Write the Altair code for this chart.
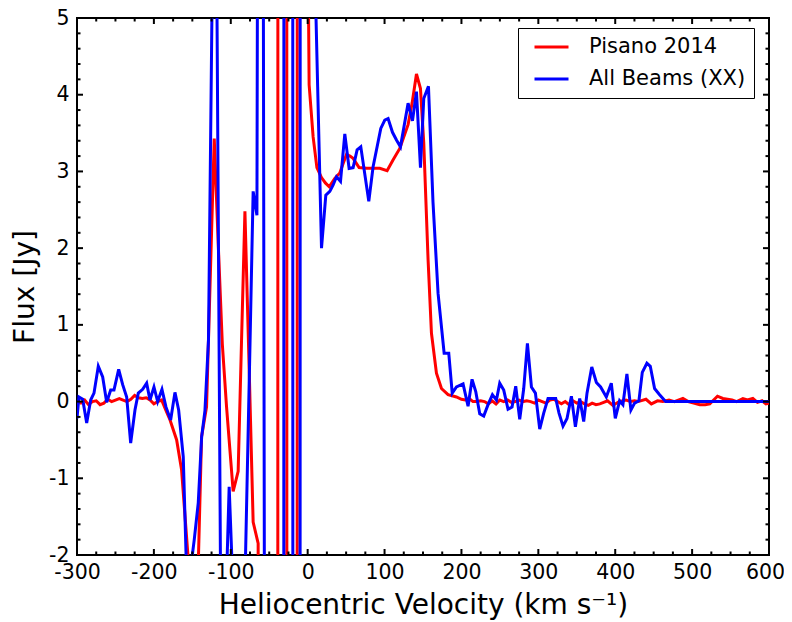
import altair as alt
import pandas as pd

# ---------------- data ----------------
red_v = [-300, -295, -290, -285, -280, -275, -270, -265, -260, -255, -250, -245, -240, -235,
         -230, -225, -220, -215, -210, -205, -200, -195, -190, -185, -179, -170.4, -164,
         -153.5, -148, -143, -138, -131.5, -126.5, -121.5, -116.5, -111, -105.5, -96.9,
         -90.4, -86, -81.6, -76, -70.9, -64.4, -59, -50, -41.4, -36.2, -29.7, -24.5, -16.2,
         -11, -6, -2, 1.9, 7.1, 12, 18, 23, 28, 35.3, 41.8, 46, 50.5, 55, 59.1, 66.9, 76.5,
         85, 93.8, 103.3, 111, 119.8, 130.6, 136, 141.5, 146.7, 151, 156.6, 161, 167.5, 174,
         182.6, 193.5, 200, 205, 210, 215, 220, 225, 230, 235, 240, 245, 250, 255, 260, 265,
         270, 275, 280, 285, 290, 295, 300, 305, 310, 315, 320, 325, 330, 335, 340, 345, 350,
         355, 360, 365, 370, 375, 380, 385, 390, 397, 405, 414, 420, 425, 430, 440, 447, 455,
         462, 470, 477, 482, 488, 495, 502, 510, 517, 523, 528, 533, 540, 546, 552, 558, 566,
         572, 579, 585, 591, 596, 600]
red_f = [0.0, -0.02, 0.02, -0.04, 0.0, 0.01, -0.04, -0.02, 0.03, 0.0, 0.02, 0.04, 0.02, 0.0,
         0.03, 0.08, 0.05, 0.04, 0.05, 0.02, -0.03, 0.0, 0.02, -0.1, -0.24, -0.5, -0.89,
         -2.3, -2.8, -2.4, -0.46, -0.07, 1.68, 3.43, 2.1, 0.75, -0.07, -1.17,
         -0.91, 0.8, 2.48, 0.4, -1.57, -1.85, -80, -150, -300, 300, 300, -300, -300,
         300, 150, 9, 4.13, 3.45, 3.05, 2.92, 2.85, 2.8, 2.91, 2.98, 3.1, 3.22, 3.2, 3.17, 3.05, 3.04,
         3.04, 3.04, 3.01, 3.15, 3.30, 3.61, 3.9, 4.27, 4.08, 3.37, 1.85, 0.89, 0.37, 0.17,
         0.09, 0.06, 0.03, 0.02, 0.04, 0.0, 0.0, 0.01, 0.0, -0.03, 0.01, -0.03, 0.02, 0.0, 0.02, -0.01,
         0.0, 0.02, 0.0, 0.01, 0.0, -0.02, 0.02, 0.0, -0.02, 0.02, 0.03, 0.0, -0.03, 0.0, -0.04, 0.01, -0.02,
         0.0, -0.03, -0.05, -0.02, -0.04, -0.03, -0.01, 0.01, -0.05, 0.0, 0.02, 0.0, 0.01, 0.0, 0.03, -0.03, 0.01,
         0.0, 0.02, 0.0, 0.02, 0.04, 0.0, -0.02, -0.04, -0.04, -0.03, 0.02, 0.07, 0.04, 0.03, 0.02, 0.0, 0.04,
         0.02, 0.04, -0.01, 0.01, -0.03, -0.02]

blue_v = [-300, -297.5, -292.6, -287.4, -282.2, -277.9, -272.3, -266.6, -261.4, -256.2, -251.9,
          -245.8, -240.6, -235.4, -230.2, -224.6, -220.3, -214.6, -209.4, -205.1, -199.9, -195.1,
          -189.5, -184.3, -178.2, -172.6, -167.8, -161.8, -157, -152.5, -147.5, -142.3, -137.9,
          -133.6, -129, -123.5, -118.5, -113, -107.5, -102.1, -95, -85, -76, -70.9, -66, -61,
          -55, -50, -33.5, -28.5, -21.8, -16.8, -12.3, -7.3, -2, 3, 7.8, 13, 18, 23.6, 28.8, 33,
          37.5, 42.7, 48.3, 53.9, 59.1, 64.3, 69.1, 79.5, 85.1, 95.1, 100.3, 104.6, 110.3, 115.5,
          120.7, 130.6, 136.3, 141.5, 146.7, 151, 157.1, 163, 169.6, 177.5, 183.5, 188, 193.5,
          202.1, 208.6, 213.8, 218.6, 223.8, 229, 234.6, 240.3, 245.5, 249.8, 255, 260.6, 265.8,
          270.6, 275.8, 281, 285.8, 291, 296.2, 301.8, 307, 312.6, 322.6, 326.9, 332.1, 337.3,
          343, 348.2, 353.8, 359, 363.3, 369.5, 375.5, 381, 388.4, 394.9, 400.1, 405.7, 410,
          415.2, 420.4, 425.2, 430.8, 435.2, 441.2, 445.6, 451.2, 457.7, 465.5, 600]
blue_f = [-0.22, 0.06, 0.03, -0.28, 0.02, 0.11, 0.46, 0.32, -0.01, 0.15, 0.15,
          0.42, 0.22, 0.06, -0.54, -0.11, 0.11, 0.16, 0.24, 0.02, 0.19, 0.0,
          0.16, -0.07, -0.24, 0.12, -0.11, -0.72, -2.4, -2.2, -1.8, -1.32, -0.46,
          -0.12, 0.8, 6.0, 6.0, -2.8, -3.0, -1.11, -3.0, -4.0, 0.27, 2.74, 2.43, 25,
          -10, -20, -200, 200, 200, -200, -200, 200, 60, 20, 6.3, 4.1, 2.0, 2.69, 2.74, 2.82,
          2.93, 2.87, 3.49, 3.04, 3.05, 3.28, 3.32, 2.61, 3.06, 3.56, 3.67, 3.69, 3.51, 3.41,
          3.32, 3.89, 3.66, 4.04, 3.05, 3.95, 4.11, 2.6, 1.41, 0.63, 0.63, 0.11, 0.19,
          0.23, -0.06, 0.29, 0.13, -0.16, -0.19, -0.04, 0.09, 0.02, 0.24, 0.15, -0.1, -0.07,
          0.2, -0.23, 0.17, 0.76, 0.19, 0.11, -0.36, -0.15, 0.04, 0.04, -0.15, -0.32, -0.22,
          0.07, -0.33, 0.04, -0.26, 0.11, 0.45, 0.25, 0.19, 0.06, 0.24, -0.22, 0.01, -0.04,
          0.36, -0.11, -0.02, 0.01, 0.38, 0.5, 0.46, 0.17, 0.09, 0.0, 0.0]

series_names = ["Pisano 2014", "All Beams (XX)"]
series_colors = ["#ff0000", "#0000ff"]

x_major = [-300, -200, -100, 0, 100, 200, 300, 400, 500, 600]
x_minor = [v for v in range(-300, 601, 25) if v % 100 != 0]
y_major = [-2, -1, 0, 1, 2, 3, 4, 5]
y_minor = [round(-2 + 0.2 * i, 1) for i in range(36) if i % 5 != 0]

# ---------------- chart ----------------
W, H = 692, 537
FONT = "DejaVu Sans"

df_red = pd.DataFrame({"v": red_v, "f": red_f, "s": series_names[0]})
df_blue = pd.DataFrame({"v": blue_v, "f": blue_f, "s": series_names[1]})

xs = alt.Scale(domain=[-300, 600], nice=False, zero=False)
ys = alt.Scale(domain=[-2, 5], nice=False, zero=False)

color = alt.Color(
    "s:N",
    scale=alt.Scale(domain=series_names, range=series_colors),
    legend=alt.Legend(
        title=None, orient="none", legendX=441, legendY=10,
        symbolType="stroke", symbolSize=1156, symbolStrokeWidth=3,
        labelFont=FONT, labelFontSize=21, labelColor="black",
        labelOffset=19, symbolOffset=7, padding=8, rowPadding=10, clipHeight=22,
        strokeColor="black", fillColor="white", cornerRadius=0,
    ),
)

x_axis = alt.Axis(values=x_major, labelExpr="'' + datum.value", labelPadding=7,
                  labelFlush=False, labelOverlap=False,
                  labelOffset={"condition": {"test": "datum.value == 600", "value": -4}, "value": 0},
                  title="Heliocentric Velocity (km s\u207b\u00b9)", titleY=58,
                  titleBaseline="alphabetic")
y_axis = alt.Axis(values=y_major, labelExpr="'' + datum.value", labelPadding=8,
                  labelFlush=False, labelOverlap=False,
                  title="Flux [Jy]", titleX=-44, titleBaseline="alphabetic")

red = alt.Chart(df_red).mark_line(strokeWidth=3, clip=True).encode(
    x=alt.X("v:Q", scale=xs, axis=x_axis),
    y=alt.Y("f:Q", scale=ys, axis=y_axis),
    color=color,
)
blue = alt.Chart(df_blue).mark_line(strokeWidth=3, clip=True).encode(
    x=alt.X("v:Q", scale=xs, axis=x_axis),
    y=alt.Y("f:Q", scale=ys, axis=y_axis),
    color=color,
)


def xticks(vals, length):
    d = pd.DataFrame({"t": vals})
    bottom = alt.Chart(d).mark_rule(color="black", strokeWidth=2).encode(
        x=alt.X("t:Q", scale=xs, axis=x_axis), y=alt.value(H), y2=alt.value(H - length))
    top = alt.Chart(d).mark_rule(color="black", strokeWidth=2).encode(
        x=alt.X("t:Q", scale=xs, axis=x_axis), y=alt.value(0), y2=alt.value(length))
    return [bottom, top]


def yticks(vals, length):
    d = pd.DataFrame({"t": vals})
    left = alt.Chart(d).mark_rule(color="black", strokeWidth=2).encode(
        y=alt.Y("t:Q", scale=ys, axis=y_axis), x=alt.value(0), x2=alt.value(length))
    right = alt.Chart(d).mark_rule(color="black", strokeWidth=2).encode(
        y=alt.Y("t:Q", scale=ys, axis=y_axis), x=alt.value(W), x2=alt.value(W - length))
    return [left, right]


layers = [red, blue] + xticks(x_major, 6) + xticks(x_minor, 3.5) + yticks(y_major, 6) + yticks(y_minor, 3.5)

chart = alt.layer(*layers).properties(
    width=W, height=H,
    autosize=alt.AutoSizeParams(type="none"),
    padding={"left": 69, "top": 10, "right": 15, "bottom": 75},
).configure_view(
    stroke="black", strokeWidth=2
).configure_axis(
    domain=False, ticks=False, tickSize=0, grid=False,
    labelFont=FONT, labelFontSize=20.5, labelColor="black",
    titleFont=FONT, titleFontSize=28, titleFontWeight="normal", titleColor="black",
)

chart.save("out.html", embed_options={"renderer": "svg", "actions": False})
